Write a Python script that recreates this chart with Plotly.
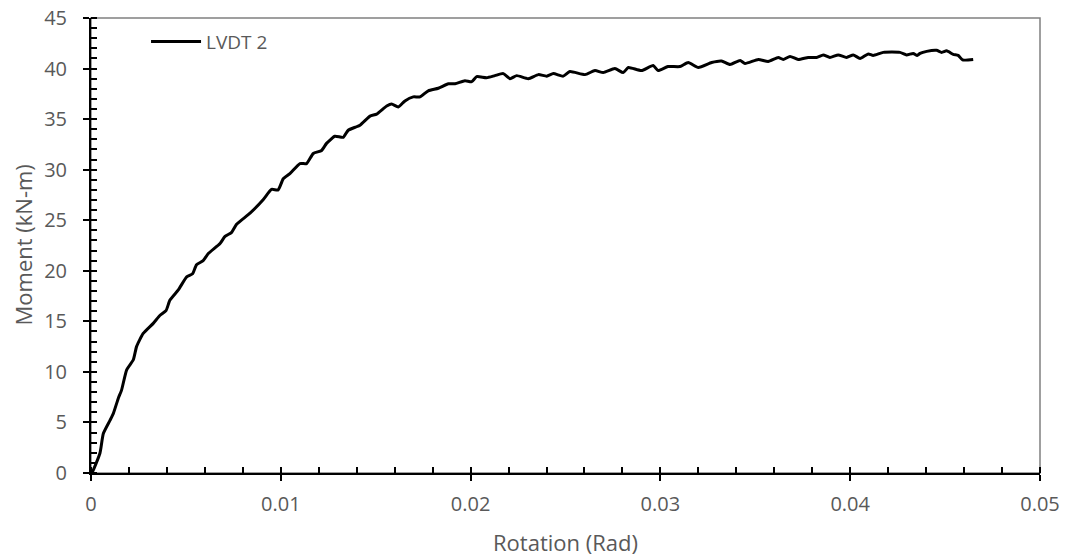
import plotly.graph_objects as go

rotation = [0.0, 0.00007, 0.00047, 0.00065, 0.0010, 0.00118, 0.00144, 0.00161, 0.00188, 0.00223,
            0.0024, 0.00275, 0.00328, 0.00364, 0.00395, 0.00416, 0.0046, 0.00504, 0.00535, 0.00556,
            0.00591, 0.00618, 0.0068, 0.00706, 0.00741, 0.00767, 0.00838, 0.00908, 0.00951, 0.00986,
            0.01013, 0.01048, 0.01101, 0.01136, 0.01171, 0.01215, 0.01241, 0.01285, 0.01329, 0.01355,
            0.01417, 0.0147, 0.01505, 0.01558, 0.01584, 0.01619, 0.01654, 0.01698, 0.01733, 0.01777,
            0.0183, 0.01883, 0.01918, 0.0197, 0.02006, 0.02032, 0.02084, 0.02128, 0.02172, 0.02208,
            0.02243, 0.02304, 0.02357, 0.02401, 0.02436, 0.02488, 0.02523, 0.02603, 0.02655, 0.02699,
            0.0276, 0.02804, 0.02831, 0.029, 0.02962, 0.02988, 0.0304, 0.03103, 0.03147, 0.032,
            0.0327, 0.03322, 0.03367, 0.0342, 0.03446, 0.03516, 0.03568, 0.03621, 0.03647, 0.03683,
            0.03726, 0.03779, 0.03823, 0.03858, 0.03893, 0.03937, 0.03981, 0.04016, 0.04052, 0.04095,
            0.04121, 0.04174, 0.04262, 0.04297, 0.04332, 0.04353, 0.04368, 0.04403, 0.04455, 0.04482,
            0.04508, 0.04543, 0.04569, 0.04592, 0.04648]
moment = [0.0, 0.1, 1.95, 3.9, 5.2, 5.9, 7.4, 8.2, 10.2, 11.2,
          12.5, 13.8, 14.8, 15.6, 16.05, 17.1, 18.1, 19.4, 19.7, 20.6,
          21.0, 21.7, 22.7, 23.4, 23.8, 24.6, 25.7, 27.05, 28.05, 28.0,
          29.1, 29.6, 30.6, 30.6, 31.6, 31.9, 32.6, 33.3, 33.2, 33.9,
          34.4, 35.3, 35.5, 36.3, 36.5, 36.2, 36.8, 37.2, 37.2, 37.8,
          38.05, 38.5, 38.5, 38.8, 38.7, 39.2, 39.1, 39.3, 39.5, 39.0,
          39.3, 39.0, 39.4, 39.25, 39.5, 39.25, 39.7, 39.4, 39.8, 39.6,
          40.0, 39.6, 40.1, 39.8, 40.3, 39.8, 40.2, 40.2, 40.6, 40.1,
          40.6, 40.75, 40.4, 40.8, 40.5, 40.9, 40.7, 41.1, 40.9, 41.2,
          40.9, 41.1, 41.1, 41.35, 41.1, 41.35, 41.1, 41.35, 41.0, 41.45,
          41.3, 41.6, 41.6, 41.35, 41.5, 41.3, 41.5, 41.7, 41.8, 41.6,
          41.75, 41.4, 41.3, 40.85, 40.9]

series_name = "LVDT 2"
x_title = "Rotation (Rad)"
y_title = "Moment (kN-m)"
x_tickvals = [0, 0.01, 0.02, 0.03, 0.04, 0.05]
x_ticktext = ["0", "0.01", "0.02", "0.03", "0.04", "0.05"]
y_tickvals = [0, 5, 10, 15, 20, 25, 30, 35, 40, 45]

FONT = "Open Sans"
GRAY = "#595959"

fig = go.Figure()
fig.add_trace(go.Scatter(x=rotation, y=moment, mode="lines", name=series_name,
                         line=dict(color="black", width=3, shape="spline", smoothing=0.5)))
# invisible trace on overlay axes to make major ticks cross the axis line
fig.add_trace(go.Scatter(x=[0, 0.05], y=[0, 45], mode="markers", marker=dict(opacity=0),
                         xaxis="x2", yaxis="y2", showlegend=False, hoverinfo="skip"))

fig.update_layout(
    width=1068, height=559,
    margin=dict(l=91, r=28, t=18, b=86),
    paper_bgcolor="white", plot_bgcolor="white",
    font=dict(family=FONT, size=20, color=GRAY),
    showlegend=True,
    legend=dict(x=0.058, y=0.99, xanchor="left", yanchor="top", bgcolor="rgba(0,0,0,0)",
                font=dict(family=FONT, size=19, color=GRAY), itemwidth=50),
    xaxis=dict(range=[0, 0.05], tickmode="array", tickvals=x_tickvals, ticktext=x_ticktext,
               showgrid=False, zeroline=False, automargin=False,
               showline=True, linecolor="black", linewidth=2,
               ticks="outside", ticklen=6, tickwidth=2, tickcolor="black", ticklabelstandoff=6,
               minor=dict(dtick=0.002, tick0=0, ticks="inside", ticklen=6, tickwidth=1.5,
                          tickcolor="black", showgrid=False),
               tickfont=dict(family=FONT, size=20, color=GRAY)),
    yaxis=dict(range=[0, 45], tickmode="array", tickvals=y_tickvals,
               showgrid=False, zeroline=False, automargin=False,
               showline=True, linecolor="black", linewidth=2,
               ticks="outside", ticklen=6, tickwidth=2, tickcolor="black", ticklabelstandoff=12,
               minor=dict(dtick=1, tick0=0, ticks="inside", ticklen=6, tickwidth=1.5,
                          tickcolor="black", showgrid=False),
               tickfont=dict(family=FONT, size=20, color=GRAY)),
    xaxis2=dict(range=[0, 0.05], tickmode="array", tickvals=x_tickvals, overlaying="x",
                showgrid=False, zeroline=False, showticklabels=False, automargin=False,
                ticks="inside", ticklen=6, tickwidth=2, tickcolor="black", showline=False, side="bottom"),
    yaxis2=dict(range=[0, 45], tickmode="array", tickvals=y_tickvals, overlaying="y",
                showgrid=False, zeroline=False, showticklabels=False, automargin=False,
                ticks="inside", ticklen=6, tickwidth=2, tickcolor="black", showline=False, side="left"),
    shapes=[dict(type="rect", xref="paper", yref="paper", x0=0, y0=0, x1=1, y1=1,
                 line=dict(color="#808080", width=1.5), layer="below")],
    annotations=[
        dict(text=x_title, xref="paper", yref="paper", x=0.5, y=0, xanchor="center",
             yanchor="middle", yshift=-69, showarrow=False,
             font=dict(family=FONT, size=22, color=GRAY)),
        dict(text=y_title, xref="paper", yref="paper", x=0, y=0.5, xanchor="center",
             yanchor="middle", xshift=-69, textangle=-90, showarrow=False,
             font=dict(family=FONT, size=22, color=GRAY)),
    ],
)

fig.write_html("out.html", config={"displayModeBar": False},
               post_script="document.body.style.margin='0px';")
